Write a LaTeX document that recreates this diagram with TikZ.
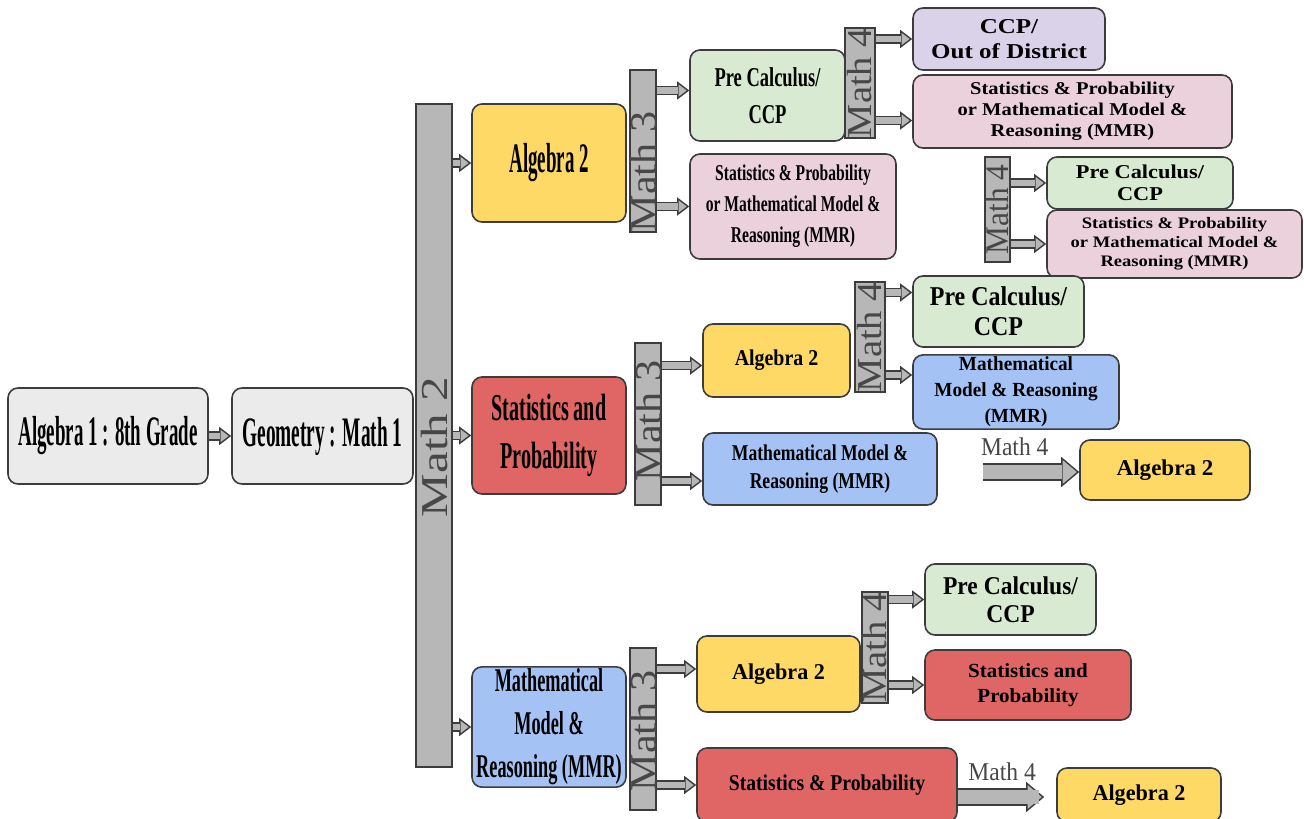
\documentclass[tikz,border=0pt]{standalone}
\usepackage{fontspec}
\setmainfont{Liberation Serif}
\usetikzlibrary{arrows.meta,positioning,calc}

\definecolor{startgray}{HTML}{EBEBEB}
\definecolor{algyellow}{HTML}{FFD966}
\definecolor{statred}{HTML}{E06666}
\definecolor{mmrblue}{HTML}{A4C2F4}
\definecolor{calcgreen}{HTML}{D9EAD3}
\definecolor{mixpink}{HTML}{EAD1DC}
\definecolor{ccplilac}{HTML}{D9D2E9}
\definecolor{bargray}{HTML}{B7B7B7}
\definecolor{edgegray}{HTML}{3C3C3C}

\newcommand{\boxfont}[3]{\bfseries\addfontfeatures{FakeStretch=#1}\fontsize{#2}{#3}\selectfont}
\newcommand{\barfont}[2]{\addfontfeatures{FakeStretch=#1}\fontsize{#2}{#2}\selectfont}

\begin{document}
\begin{tikzpicture}[
    x=0.5pt, y=-0.5pt,
    box/.style={rectangle, draw=edgegray, line width=0.8pt, rounded corners=5pt, align=center, inner sep=1pt},
    bar/.style={rectangle, draw=edgegray, line width=0.7pt, fill=bargray, inner sep=0pt},
    barlbl/.style={rotate=90, anchor=center, text=black!72, inner sep=0pt},
    flow/.style={draw=edgegray, line width=4.6pt, -{Triangle[length=6pt, width=9pt, line width=0.7pt, fill=bargray]},
        postaction={draw=bargray, line width=3.2pt, arrows=-, shorten >=5.6pt}},
    bigflow/.style={draw=edgegray, line width=8.6pt, -{Triangle[length=9pt, width=15pt, line width=0.7pt, fill=bargray]},
        postaction={draw=bargray, line width=7.2pt, arrows=-, shorten >=8.6pt}}
]
    \useasboundingbox (0,0) rectangle (1304,818);

    % Start
    \node[box, fill=startgray, minimum width=100pt, minimum height=48pt, font=\boxfont{0.45}{21}{23}] (alg1) at (108,436) {Algebra 1 : 8th Grade};
    \node[box, fill=startgray, minimum width=90.5pt, minimum height=48pt, font=\boxfont{0.46}{21}{23}] (geom) at (322.5,436) {Geometry : Math 1};

    % Math 2
    \node[bar, minimum width=18pt, minimum height=331.5pt] (m2) at (434,435.5) {};
    \node[barlbl, font=\barfont{1.29}{19}] (m2lbl) at (434,447) {Math 2};
    \node[box, fill=algyellow, minimum width=77pt, minimum height=59pt, font=\boxfont{0.45}{21}{23}] (alg2a) at (549,163) {Algebra 2};
    \node[box, fill=statred, minimum width=77pt, minimum height=58.5pt, font=\boxfont{0.53}{19}{24}] (stat) at (549,435.5) {Statistics and\\Probability};
    \node[box, fill=mmrblue, minimum width=77pt, minimum height=59pt, font=\boxfont{0.55}{16.6}{21.5}] (mmr) at (549,727) {Mathematical\\Model \&\\Reasoning (MMR)};

    % Math 3
    \node[bar, minimum width=13pt, minimum height=81pt] (m3a) at (643,151) {};
    \node[bar, minimum width=13pt, minimum height=81pt] (m3b) at (648,424) {};
    \node[bar, minimum width=13pt, minimum height=81pt] (m3c) at (643,729) {};
    \node[barlbl, font=\barfont{1.11}{19}] (m3albl) at (643,172) {Math 3};
    \node[barlbl, font=\barfont{1.11}{19}] (m3blbl) at (648,421) {Math 3};
    \node[barlbl, font=\barfont{1.11}{19}] (m3clbl) at (643,731) {Math 3};

    \node[box, fill=calcgreen, minimum width=77.5pt, minimum height=45.5pt, font=\boxfont{0.68}{13.6}{18.5}] (pre1) at (767.5,95.5) {Pre Calculus/\\CCP};
    \node[box, fill=mixpink, minimum width=103pt, minimum height=52.5pt, font=\boxfont{0.69}{11.3}{15.5}] (pink1) at (793,206.5) {Statistics \& Probability\\or Mathematical Model \&\\Reasoning (MMR)};
    \node[box, fill=algyellow, minimum width=73.5pt, minimum height=36.5pt, font=\boxfont{0.88}{11.3}{14}] (alg2b) at (776.5,360.5) {Algebra 2};
    \node[box, fill=mmrblue, minimum width=117pt, minimum height=36pt, font=\boxfont{0.78}{11.3}{14}] (mmr2) at (820,469) {Mathematical Model \&\\Reasoning (MMR)};
    \node[box, fill=algyellow, minimum width=81.5pt, minimum height=38pt, font=\boxfont{0.98}{11.3}{14}] (alg2c) at (778.5,674) {Algebra 2};
    \node[box, fill=statred, minimum width=130pt, minimum height=37pt, font=\boxfont{0.87}{11.3}{14}] (statpb) at (827,785) {Statistics \& Probability};

    % Math 4
    \node[bar, minimum width=15pt, minimum height=55pt] (m4a) at (860,83) {};
    \node[bar, minimum width=15pt, minimum height=55pt] (m4b) at (870,337) {};
    \node[bar, minimum width=12.5pt, minimum height=52.5pt] (m4c) at (997.5,209.5) {};
    \node[bar, minimum width=13pt, minimum height=55.5pt] (m4d) at (875,647.5) {};
    \node[barlbl, font=\barfont{1.1}{17.5}] (m4albl) at (m4a) {Math 4};
    \node[barlbl, font=\barfont{1.1}{17.5}] (m4blbl) at (m4b) {Math 4};
    \node[barlbl, font=\barfont{0.95}{16.5}] (m4clbl) at (m4c) {Math 4};
    \node[barlbl, font=\barfont{1.1}{17.5}] (m4dlbl) at (m4d) {Math 4};
    \coordinate (m4e) at (983,472);

    \node[box, fill=ccplilac, minimum width=96pt, minimum height=31pt, font=\boxfont{1.18}{10.6}{12.5}] (ccp) at (1009,39) {CCP/\\Out of District};
    \node[box, fill=mixpink, minimum width=159.5pt, minimum height=36.5pt, font=\boxfont{1.14}{9}{10.5}] (pink2) at (1072.5,111.5) {Statistics \& Probability\\or Mathematical Model \&\\Reasoning (MMR)};
    \node[box, fill=calcgreen, minimum width=93pt, minimum height=26pt, font=\boxfont{1.14}{9.8}{11}] (pre3) at (1140,183) {Pre Calculus/\\CCP};
    \node[box, fill=mixpink, minimum width=127.5pt, minimum height=34pt, font=\boxfont{1.16}{8}{9.5}] (pink3) at (1174.5,244) {Statistics \& Probability\\or Mathematical Model \&\\Reasoning (MMR)};
    \node[box, fill=calcgreen, minimum width=85.5pt, minimum height=35.5pt, font=\boxfont{0.88}{13.6}{15}] (pre2) at (998.5,311.5) {Pre Calculus/\\CCP};
    \node[box, fill=mmrblue, minimum width=103pt, minimum height=36pt, font=\boxfont{0.96}{10}{13}] (mmr3) at (1016,392) {Mathematical\\Model \& Reasoning\\(MMR)};
    \node[box, fill=algyellow, minimum width=85pt, minimum height=30pt, font=\boxfont{1.02}{11.3}{14}] (alg2d) at (1165,470) {Algebra 2};
    \node[box, fill=calcgreen, minimum width=85.5pt, minimum height=35.5pt, font=\boxfont{0.92}{12.8}{14}] (pre4) at (1010.5,599.5) {Pre Calculus/\\CCP};
    \node[box, fill=statred, minimum width=103pt, minimum height=35pt, font=\boxfont{1.05}{10}{12.5}] (stat2) at (1028,685) {Statistics and\\Probability};
    \node[box, fill=algyellow, minimum width=82pt, minimum height=27pt, font=\boxfont{0.98}{11.3}{14}] (alg2e) at (1139,795) {Algebra 2};

    % Arrows
    \draw[flow] (alg1) -- (geom);
    \draw[flow] (m2.east |- alg2a) -- (alg2a);
    \draw[flow] (m2.east |- stat) -- (stat);
    \draw[flow] (m2.east |- mmr) -- (mmr);
    \draw[flow] ([yshift=2.5pt]m3a.east |- pre1) -- ([yshift=2.5pt]pre1.west);
    \draw[flow] (m3a.east |- pink1) -- (pink1);
    \draw[flow] ([yshift=-2.5pt]m3b.east |- alg2b) -- ([yshift=-2.5pt]alg2b.west);
    \draw[flow] ([yshift=-6pt]m3b.east |- mmr2) -- ([yshift=-6pt]mmr2.west);
    \draw[flow] ([yshift=2.5pt]m3c.east |- alg2c) -- ([yshift=2.5pt]alg2c.west);
    \draw[flow] (m3c.east |- statpb) -- (statpb);
    \draw[flow] (m4a.east |- ccp) -- (ccp);
    \draw[flow] ([yshift=-4.5pt]m4a.east |- pink2) -- ([yshift=-4.5pt]pink2.west);
    \draw[flow] ([yshift=9.5pt]m4b.east |- pre2) -- ([yshift=9.5pt]pre2.west);
    \draw[flow] ([yshift=8.5pt]m4b.east |- mmr3) -- ([yshift=8.5pt]mmr3.west);
    \draw[flow] (m4c.east |- pre3) -- (pre3);
    \draw[flow] (m4c.east |- pink3) -- (pink3);
    \draw[flow] (m4d.east |- pre4) -- (pre4);
    \draw[flow] (m4d.east |- stat2) -- (stat2);
    \draw[bigflow] (m4e) -- node[pos=0.33, above=3.6pt, inner sep=0pt, text=black!72, font=\barfont{0.92}{12.8}] {Math 4} (m4e -| alg2d.west);
    \draw[bigflow, shorten >=6pt] ([yshift=-6pt]statpb.east) -- node[pos=0.45, above=3.6pt, inner sep=0pt, text=black!72, font=\barfont{0.92}{12.8}] {Math 4} ([yshift=-6pt]statpb.east -| alg2e.west);
\end{tikzpicture}
\end{document}
